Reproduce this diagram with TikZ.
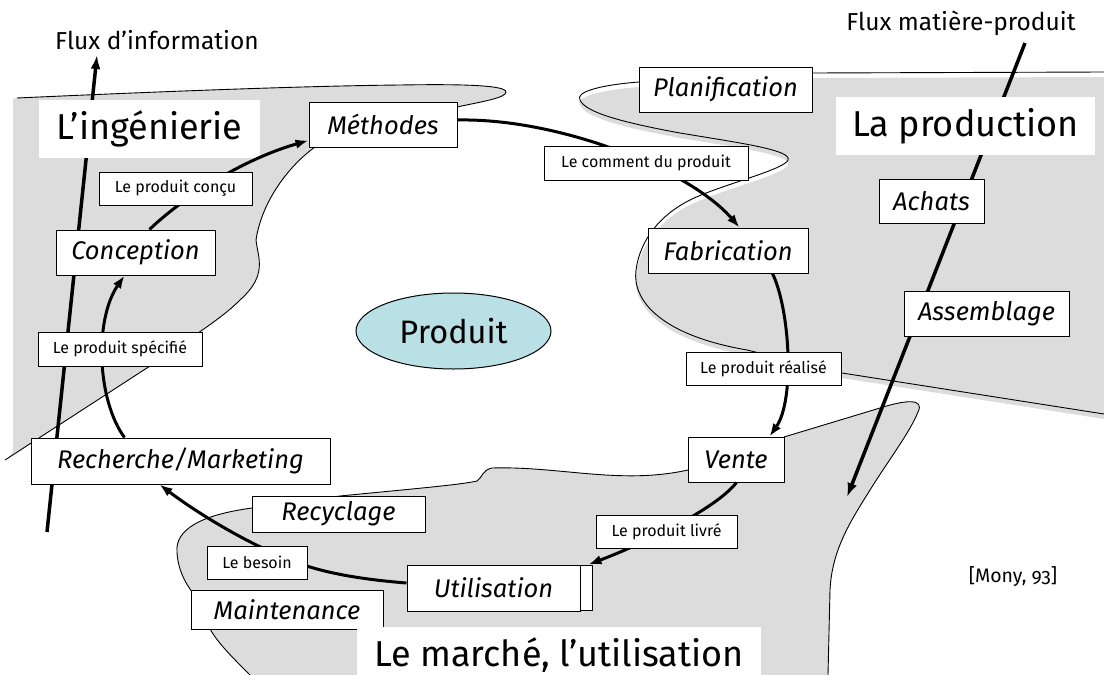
\documentclass[tikz,border=0pt]{standalone}
\usepackage{fontspec}
\setmainfont{Fira Sans}
\newfontfamily\citefont[Numbers=OldStyle]{Fira Sans}
\usetikzlibrary{arrows.meta,calc,shapes.geometric}
\definecolor{zone}{RGB}{220,220,220}
\definecolor{prodblue}{RGB}{185,224,228}

\tikzset{
  stage/.style={draw=black, line width=1pt, fill=white, inner sep=0pt,
    font=\fontsize{25.5}{27}\selectfont\itshape},
  flowlabel/.style={draw=black, line width=0.9pt, fill=white, inner sep=0pt,
    font=\fontsize{16}{18}\selectfont},
  domainlabel/.style={fill=white, inner sep=0pt, font=\fontsize{36}{40}\selectfont},
  plainlabel/.style={inner sep=0pt, font=\fontsize{24.5}{27}\selectfont},
  cyclearrow/.style={line width=3pt, -{Latex[length=13pt,width=9.5pt]}},
  fluxarrow/.style={line width=3.5pt, -{Latex[length=14pt,width=10pt]}},
  zoneborder/.style={line width=0.9pt},
}

\begin{document}
\begin{tikzpicture}[x=1pt,y=-1pt]
\useasboundingbox (0,0) rectangle (1104,675);

% --- shaded domains -------------------------------------------------
% engineering
\fill[zone] (13,99) -- (17,98) .. controls (150,92) and (300,86) .. (400,85)
  .. controls (460,84) and (506,85) .. (506,92)
  .. controls (506,98) and (480,102) .. (457,107) -- (315,147)
  .. controls (290,165) and (262,200) .. (256,240)
  .. controls (258,258) and (268,275) .. (240,300)
  .. controls (225,315) and (210,325) .. (150,366) -- (8,458) -- (13,452) -- cycle;
% production
\fill[zone, yshift=-5pt] (1104,72) -- (812,73) -- (639,82)
  .. controls (600,85) and (575,92) .. (580,100)
  .. controls (585,112) and (620,122) .. (680,133)
  .. controls (740,143) and (792,150) .. (788,160)
  .. controls (784,170) and (720,185) .. (690,200)
  .. controls (660,215) and (640,240) .. (636,270)
  .. controls (632,300) and (660,335) .. (747,350)
  -- (842,373) -- (1104,414) -- cycle;
% market
\fill[zone] (784,437) -- (880,408) .. controls (905,400) and (925,398) .. (918,412)
  .. controls (910,432) and (890,458) .. (870,490)
  .. controls (850,522) and (832,550) .. (830,590) -- (828,675) -- (250,675)
  .. controls (230,655) and (215,640) .. (208,625) -- (192,592)
  .. controls (185,582) and (178,570) .. (177,552)
  .. controls (175,530) and (200,515) .. (252,508) -- (340,496)
  .. controls (400,490) and (460,485) .. (477,481)
  .. controls (482,478) and (482,470) .. (492,468)
  .. controls (560,466) and (620,485) .. (688,470) -- cycle;

% --- domain outlines ------------------------------------------------
\draw[zoneborder] (17,98) .. controls (150,92) and (300,86) .. (400,85)
  .. controls (460,84) and (506,85) .. (506,92)
  .. controls (506,98) and (480,102) .. (457,107) -- (315,147)
  .. controls (290,165) and (262,200) .. (256,240)
  .. controls (258,258) and (268,275) .. (240,300)
  .. controls (225,315) and (210,325) .. (150,366) -- (5,460);
\draw[zoneborder] (1104,72) -- (812,73) -- (639,82)
  .. controls (600,85) and (575,92) .. (580,100)
  .. controls (585,112) and (620,122) .. (680,133)
  .. controls (740,143) and (792,150) .. (788,160)
  .. controls (784,170) and (720,185) .. (690,200)
  .. controls (660,215) and (640,240) .. (636,270)
  .. controls (632,300) and (660,335) .. (747,350)
  -- (842,373) -- (1104,414);
\draw[zoneborder] (784,437) -- (880,408) .. controls (905,400) and (925,398) .. (918,412)
  .. controls (910,432) and (890,458) .. (870,490)
  .. controls (850,522) and (832,550) .. (830,590) -- (828,675);
\draw[zoneborder] (250,675)
  .. controls (230,655) and (215,640) .. (208,625) -- (192,592)
  .. controls (185,582) and (178,570) .. (177,552)
  .. controls (175,530) and (200,515) .. (252,508) -- (340,496)
  .. controls (400,490) and (460,485) .. (477,481)
  .. controls (482,478) and (482,470) .. (492,468)
  .. controls (560,466) and (620,485) .. (688,470);

% --- flows ----------------------------------------------------------
\coordinate (infobot) at (47,532);
\coordinate (infotop) at (97,55);
\coordinate (mattop) at (1025,43);
\coordinate (matbot) at (847,497);
\draw[fluxarrow] (infobot) -- (infotop);
\draw[fluxarrow] (mattop) -- (matbot);

\node[plainlabel] (fluxinfo) at (157,40) {Flux d’information};
\node[plainlabel] (fluxmat) at (961,23) {Flux matière-produit};

% --- stages ---------------------------------------------------------
\node[stage, minimum width=148pt, minimum height=45pt] (methodes) at (383,124.5) {Méthodes};
\node[stage, minimum width=173pt, minimum height=45pt] (planif) at (725.5,89.5) {Planification};
\node[stage, minimum width=105pt, minimum height=44pt] (achats) at (931.5,201) {Achats};
\node[stage, minimum width=165pt, minimum height=45pt] (assemblage) at (986.5,313.5) {Assemblage};
\node[stage, minimum width=160pt, minimum height=45pt] (fabrication) at (728,250.5) {Fabrication};
\node[stage, minimum width=96pt, minimum height=45pt] (vente) at (736,459.5) {Vente};
\node[stage, minimum width=173pt, minimum height=46pt] (utilisation) at (493.5,588) {Utilisation};
\node[draw=black, line width=1pt, fill=white, inner sep=0pt,
      minimum width=12pt, minimum height=45pt] (utiltab) at (586,587.5) {};
\node[stage, minimum width=192pt, minimum height=39pt] (maintenance) at (287,609.5) {Maintenance};
\node[stage, minimum width=173pt, minimum height=36pt] (recyclage) at (338.5,514) {Recyclage};
\node[stage, minimum width=299pt, minimum height=46pt] (recherche) at (180.5,461) {Recherche/Marketing};
\node[stage, minimum width=159pt, minimum height=45pt] (conception) at (135.5,252.5) {Conception};

% --- domain names ---------------------------------------------------
\node[domainlabel, minimum width=221pt, minimum height=58pt] (ingenierie) at (149.5,129) {L’ingénierie};
\node[domainlabel, minimum width=259pt, minimum height=58pt] (production) at (965.5,126) {La production};
\node[domainlabel, minimum width=404pt, minimum height=56pt] (marche) at (559,655) {Le marché, l’utilisation};

% --- product --------------------------------------------------------
\node[ellipse, draw=black, line width=1pt, fill=prodblue, inner sep=0pt,
      minimum width=195pt, minimum height=76pt, font=\fontsize{32.5}{36}\selectfont]
      (produit) at (453.5,331) {Produit};

% --- product life cycle ---------------------------------------------
\draw[cyclearrow] ([xshift=94pt]recherche.north west)
  .. controls (97,400) and (94,320) .. ([xshift=69pt]conception.south west);
\draw[cyclearrow] ([xshift=94pt]conception.north west)
  .. controls (180,200) and (240,160) .. ([yshift=7pt]methodes.south west);
\draw[cyclearrow] ([yshift=4.5pt]methodes.east)
  .. controls (560,118) and (690,170) .. ([xshift=92pt]fabrication.north west);
\draw[cyclearrow] ([xshift=125pt]fabrication.south west)
  .. controls (790,310) and (795,400) .. ([xshift=82pt]vente.north west);
\draw[cyclearrow] ([xshift=49pt]vente.south west)
  .. controls (715,510) and (640,545) .. ([xshift=9pt]utiltab.north west);
\draw[cyclearrow] ([yshift=5pt]utilisation.west)
  .. controls (370,580) and (330,575) .. (295,562)
  .. controls (250,545) and (200,515) .. ([xshift=129pt]recherche.south west);

% --- flow labels ----------------------------------------------------
\node[flowlabel, minimum width=153pt, minimum height=33pt] (concu) at (175.5,188.5) {Le produit conçu};
\node[flowlabel, minimum width=164pt, minimum height=34pt] (specifie) at (120,349) {Le produit spécifié};
\node[flowlabel, minimum width=204pt, minimum height=34pt] (comment) at (646,163) {Le comment du produit};
\node[flowlabel, minimum width=155pt, minimum height=33pt] (realise) at (763.5,368.5) {Le produit réalisé};
\node[flowlabel, minimum width=141pt, minimum height=33pt] (livre) at (666.5,531.5) {Le produit livré};
\node[flowlabel, minimum width=100pt, minimum height=33pt] (besoin) at (257,562.5) {Le besoin};

\node[inner sep=0pt, font=\citefont\fontsize{19.5}{22}\selectfont] (source) at (1013,577) {[Mony, 93]};
\end{tikzpicture}
\end{document}
